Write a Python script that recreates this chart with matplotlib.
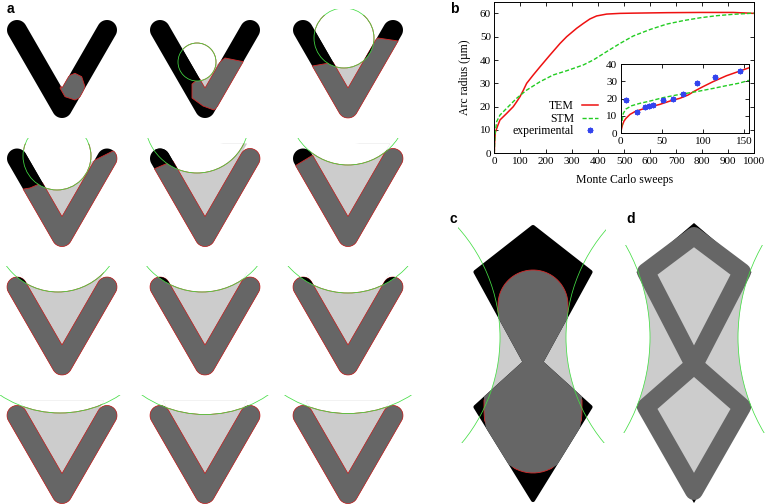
import numpy as np
import matplotlib.pyplot as plt
from matplotlib.patches import Polygon, Circle, Rectangle
from matplotlib.path import Path

plt.rcParams['font.family'] = ['Liberation Serif', 'DejaVu Serif']

# ---------------- panel b data ----------------
tem_x = [0, 1, 4, 11.6, 21.8, 47.5, 73, 86, 99, 112, 124.5, 150, 176, 214, 253,
         278.6, 317, 343, 368, 394, 432.6, 484, 535, 664, 792, 920, 1000]
tem_y = [0, 4, 9, 11.4, 14.3, 17.1, 20, 22.1, 24.3, 27.1, 30, 33.6, 37.1, 42.1, 47.1,
         50, 53.6, 55.7, 57.6, 58.9, 59.7, 60, 60.1, 60.3, 60.4, 60.4, 60]
stm_x = [0, 1, 2.6, 9, 21.8, 47.5, 86, 124.5, 176, 227, 278.6, 343, 381, 432.6, 484,
         535, 600, 664, 728, 792, 856, 920, 1000]
stm_y = [0, 4, 8, 13.6, 16.4, 19.3, 23.6, 27.1, 30.7, 33.6, 35.4, 37.9, 40, 43.6, 47.1,
         50.3, 53.1, 55.4, 56.9, 58.1, 59, 59.6, 60.1]

# inset (first 156 sweeps)
tem_in_x = [0, 1, 2, 4, 6.4, 11.3, 17.3, 25.4, 35.5, 47.7, 59.8, 71.9, 82, 90, 100,
            112.3, 128.5, 144.7, 156]
tem_in_y = [0, 2.5, 4.5, 7, 8.6, 10.9, 12.5, 13.8, 15.2, 16.7, 18.6, 20.2, 22.1, 24.4,
            26.9, 29.8, 33.2, 35.9, 37.8]
stm_in_x = [0, 1, 2, 3.2, 6.4, 13.3, 23.4, 35.5, 51.7, 67.9, 84, 96.1, 112.3, 128.5,
            144.7, 156]
stm_in_y = [0, 4, 8, 11.5, 14, 15.9, 17.3, 18.6, 20.6, 22.1, 23.4, 24.4, 25.9, 27.5,
            29, 30.6]
exp_x = [6.4, 19.4, 29.5, 34.7, 39.6, 51.7, 63.9, 76, 93.4, 115.2, 145.5]
exp_y = [19.2, 12.5, 15.4, 15.8, 16.5, 19.4, 20, 22.8, 28.8, 32.5, 36.1]

# ---------------- panel a: circle fitted in each frame (dx, dy, r) ----------------
frame_circle = [None, (-8, 32, 19), (-4, 8, 30),
                (-5, -2.5, 34), (-8, -37.5, 52), (0, -53.5, 60),
                (-4, -59, 64), (-3, -67, 72), (0, -74, 80),
                (-2, -111.5, 109), (0, -113, 112), (0, -120, 118)]
# region already swept by the new grain (None = everything below the arc)
frame_region = [
    [(-2, 58), (4.7, 46.7), (13, 43.3), (19.7, 46.7), (23, 56.7), (19.7, 66.7), (13, 70), (3, 66.7)],
    [(-13, 54), (20, 28), (40, 32), (40, 55), (9, 80), (-2, 76), (-13, 68)],
    [(-58, 40), (-13, 32), (30, 8), (57, 12), (57, 100), (-58, 100)],
    [(-62, 34.5), (-32, 29.5), (33, 1.5), (53, -8.5), (68, -8.5), (68, 91.5), (-62, 91.5)],
    [(-65, 16.5), (-30, 1.5), (55, -28.5), (70, -28.5), (70, 91.5), (-65, 91.5)],
    [(-63, 13.5), (-30, -6.5), (72, -28.5), (72, 91.5), (-63, 91.5)],
    None, None, None, None, None, None]

BLACK, GREY, LIGHT = '#000000', '#666666', '#cccccc'
GREEN, RED = '#44dd44', '#d42a2a'
PX = 0.72  # points per pixel

fig = plt.figure(figsize=(7.69, 5.04), dpi=100)
cv = fig.add_axes([0, 0, 1, 1])
cv.set_xlim(0, 769)
cv.set_ylim(504, 0)
cv.axis('off')
T = cv.transData


def arc(c, r, a0, a1, n=24, ry=None):
    t = np.radians(np.linspace(a0, a1, n))
    ry = r if ry is None else ry
    return np.c_[c[0] + r * np.cos(t), c[1] + ry * np.sin(t)]


def v_shape(cx, cy, hw=10):
    A = np.array([cx - 45, cy]); B = np.array([cx, cy + 78]); C = np.array([cx + 45, cy])
    outer = np.vstack([arc(A, hw, -30, -210), arc(B, hw, 150, 30), arc(C, hw, 30, -150)])
    N = np.array([cx, cy + 78 - 2 * hw])
    v = np.vstack([outer, N])
    up = np.array([0.5774 * 73, -73])  # along the inner edges, from N up to cy-15
    notch = np.array([N, N + up, N + up * [-1, 1]])
    return v, notch


def outside_disk(tri, center, r):
    # part of triangle tri (apex = tri[1]) lying outside the disk
    t = np.linspace(0, 2 * np.pi, 3000)
    pts = np.c_[center[0] + r * np.cos(t), center[1] + r * np.sin(t)]
    a = pts[Path(tri).contains_points(pts)]
    a = a[np.argsort(a[:, 1])]
    return np.vstack([a, tri[1]])


for k in range(12):
    i, j = divmod(k, 3)
    cx, cy = 62 + 143 * j, 30 + 128.5 * i
    v, notch = v_shape(cx, cy)
    circ, region = frame_circle[k], frame_region[k]
    if region is None:
        reg = Rectangle((cx - 80, cy - 40), 160, 150, transform=T)
    else:
        reg = Polygon(np.array(region) + [cx, cy], closed=True, transform=T)
    v_p = Polygon(v, transform=T)
    if circ is not None:
        cc = (cx + circ[0], cy + circ[1])
        disk = Circle(cc, circ[2], transform=T)
        notch_p = Polygon(notch, transform=T)
        p = cv.add_patch(Polygon(notch, fc=LIGHT, ec='none'))
        p.set_clip_path(reg)
        p = cv.add_patch(Circle(cc, circ[2], fc='white', ec='white', lw=0.5))
        p.set_clip_path(notch_p)
    cv.add_patch(Polygon(v, fc=BLACK, ec='none'))
    p = cv.add_patch(Polygon(v, fc=GREY, ec=RED, lw=0.5))
    p.set_clip_path(reg)
    if region is not None:
        p = cv.add_patch(Polygon(np.array(region) + [cx, cy], fill=False, ec=RED, lw=0.6))
        p.set_clip_path(v_p)
    if circ is not None:
        p = cv.add_patch(Polygon(v, fc=BLACK, ec='none'))
        p.set_clip_path(disk)
        p = cv.add_patch(Circle(cc, circ[2], fill=False, ec=RED, lw=0.6))
        p.set_clip_path(notch_p)
        p = cv.add_patch(Circle(cc, circ[2], fill=False, ec=GREEN, lw=0.55))
        p.set_clip_path(Rectangle((cx - 70, cy - 21), 140, 125, transform=T))

# ---------------- panels c and d ----------------
kite_up = np.array([(0, 227), (57.5, 272), (0, 377), (-57.5, 272)])
kite_lo = np.array([(0, 355), (57.5, 407), (0, 500), (-57.5, 407)])
notch_l = np.array([(-57.5, 272), (0, 366), (-57.5, 407)])
notch_r = notch_l * [-1, 1]


def side_notches(xc, dx, r, yc=337.5):
    for sgn, tri in ((-1, notch_l), (1, notch_r)):
        cv.add_patch(Polygon(outside_disk(tri + [xc, 0], (xc + sgn * dx, yc), r),
                             fc=LIGHT, ec='none'))


def green_arcs(xc, dx, r, box, yc=337.5):
    for sgn in (-1, 1):
        p = cv.add_patch(Circle((xc + sgn * dx, yc), r, fill=False, ec=GREEN, lw=0.55))
        p.set_clip_path(Rectangle(box[0], box[1], box[2], transform=T))


# c : swept blobs = rounded cap + straight part towards the neck
xc = 533
blob_up = np.vstack([arc((xc, 305), 35, 180, 360, 40), [(xc + 35, 385), (xc - 35, 385)]])
blob_lo = np.vstack([arc((xc, 410), 49, 0, 180, 40, ry=63), [(xc - 49, 350), (xc + 49, 350)]])
side_notches(xc, 198, 165)
for kite in (kite_up, kite_lo):
    cv.add_patch(Polygon(kite + [xc, 0], fc=BLACK, ec=BLACK, lw=3, joinstyle='round'))
for kite, blob in ((kite_up, blob_up), (kite_lo, blob_lo)):
    p = cv.add_patch(Polygon(kite + [xc, 0], fc=GREY, ec=GREY, lw=3, joinstyle='round'))
    p.set_clip_path(Polygon(blob, transform=T))
for kite, blob in ((kite_up, blob_up), (kite_lo, blob_lo)):
    p = cv.add_patch(Polygon(blob, fill=False, ec=RED, lw=0.6))
    p.set_clip_path(Polygon(kite + [xc, 0], transform=T))
green_arcs(xc, 198, 165, ((458, 226), 148, 217))

# d
xd = 694
line_up = np.array([(0, 236), (48, 272), (0, 365), (-48, 272)])
line_lo = np.array([(0, 365), (48, 407), (0, 491), (-48, 407)])
tips_up = np.array([(0, 223), (57.5, 272), (0, 377), (-57.5, 272)])
tips_lo = np.array([(0, 355), (57.5, 407), (0, 503), (-57.5, 407)])
side_notches(xd, 231.5, 187.5)
for kite in (tips_up, tips_lo):
    cv.add_patch(Polygon(kite + [xd, 0], fc=BLACK, ec='none'))
for ln in (line_up, line_lo):
    cv.add_patch(Polygon(ln + [xd, 0], fc=LIGHT, ec='none'))
for ln in (line_up, line_lo):
    cv.add_patch(Polygon(ln + [xd, 0], fill=False, ec=GREY, lw=18 * PX, joinstyle='round'))
green_arcs(xd, 231.5, 187.5, ((622, 245), 144, 188))

# panel letters
for x, y, s in ((7, 2, 'a'), (450, 2, 'b'), (450, 212, 'c'), (626, 212, 'd')):
    cv.text(x, y, s, fontsize=10, fontweight='bold', family=['Liberation Sans', 'DejaVu Sans'],
            ha='left', va='top')

# ---------------- panel b ----------------
ax = fig.add_axes([0.6428, 0.6958, 0.3377, 0.3008])
l1, = ax.plot(tem_x, tem_y, color='#ee1111', lw=1.1, label='TEM')
l2, = ax.plot(stm_x, stm_y, color='#22cc22', lw=1.0, ls=(0, (3, 1.5)), label='STM')
ax.set_xlim(0, 1000)
ax.set_ylim(0, 65)
ax.set_xticks(range(0, 1001, 100))
ax.set_yticks(range(0, 61, 10))
ax.set_xlabel('Monte Carlo sweeps', fontsize=8.5, labelpad=6)
ax.set_ylabel('Arc radius (µm)', fontsize=8.5, labelpad=6)

ins = fig.add_axes([0.8071, 0.7355, 0.1668, 0.1375])
ins.plot(tem_in_x, tem_in_y, color='#ee1111', lw=1.1)
ins.plot(stm_in_x, stm_in_y, color='#22cc22', lw=1.0, ls=(0, (3, 1.5)))
l3, = ins.plot(exp_x, exp_y, ls='none', marker=(8, 2, 0), color='#3344ee', ms=4, mew=1.0,
               label='experimental')
ins.set_xlim(0, 156)
ins.set_ylim(0, 40)
ins.set_xticks([0, 50, 100, 150])
ins.set_yticks(range(0, 41, 10))

for a in (ax, ins):
    a.tick_params(direction='in', top=True, right=True, length=3, width=0.6,
                  labelsize=8, pad=2.5)
    for sp in a.spines.values():
        sp.set_linewidth(0.7)

ax.legend(handles=[l1, l2, l3], loc='lower right', bbox_to_anchor=(0.40, 0.105),
          frameon=False, markerfirst=False, fontsize=8.5, borderpad=0, borderaxespad=0,
          handlelength=1.35, handletextpad=0.7, labelspacing=0.05)

fig.savefig('out.png', dpi=100)
